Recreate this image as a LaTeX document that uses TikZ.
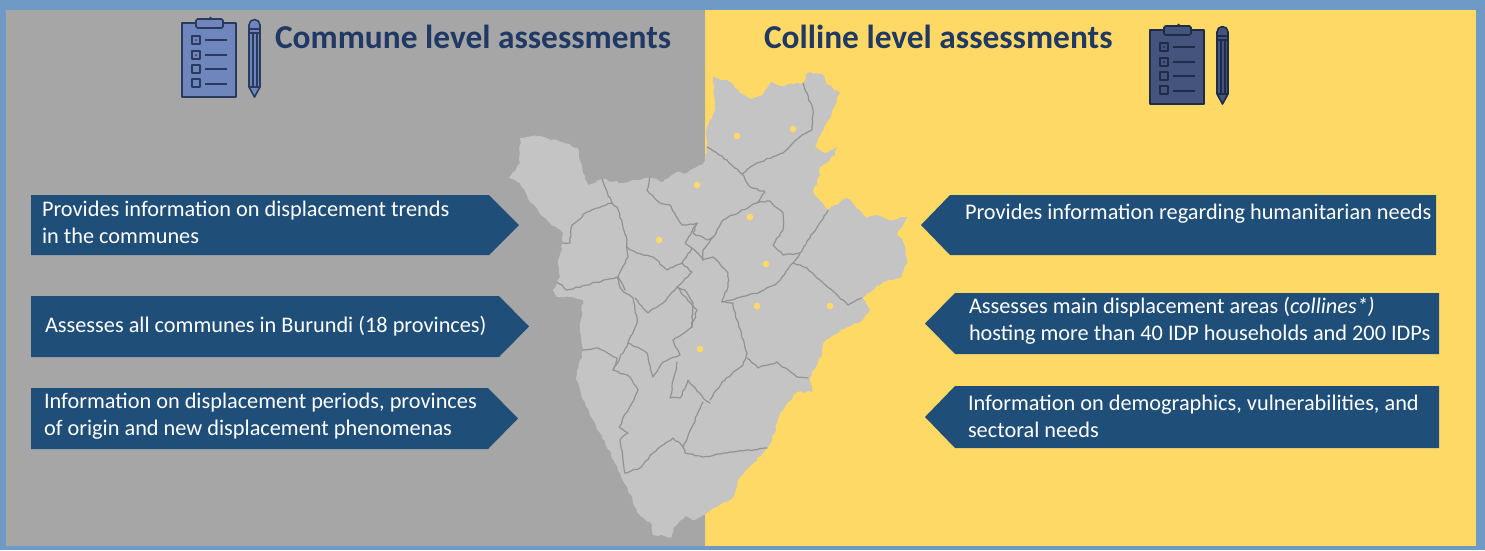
\documentclass[tikz,border=0pt]{standalone}
\usepackage{fontspec}
\usetikzlibrary{decorations.pathmorphing}
\setmainfont{Carlito}
\definecolor{frameblue}{HTML}{6E9AC5}
\definecolor{panelgray}{HTML}{A6A6A6}
\definecolor{panelyellow}{HTML}{FFD966}
\definecolor{arrowblue}{HTML}{1F4E79}
\definecolor{titleblue}{HTML}{1F3864}
\definecolor{mapfill}{HTML}{C4C4C4}
\definecolor{mapline}{HTML}{929292}
\definecolor{iconlight}{HTML}{6F86BC}
\definecolor{icondark}{HTML}{44547C}
\definecolor{iconlineL}{HTML}{2A3A5E}
\definecolor{iconlineR}{HTML}{1F2B4A}
\pgfmathsetseed{7}
\tikzset{
  arrowbox/.style={fill=arrowblue, draw=none},
  boxtext/.style={anchor=base west, text=white, inner sep=0pt, outer sep=0pt, align=left, font=\fontsize{22.3}{27}\selectfont},
  headtext/.style={anchor=base west, text=titleblue, inner sep=0pt, outer sep=0pt, font=\fontsize{33.4}{36}\selectfont\bfseries},
  wiggle/.style={decorate, decoration={random steps, segment length=3.5pt, amplitude=1.1pt}},
  border/.style={draw=mapline, line width=1.2pt, line join=round, line cap=round, decorate, decoration={random steps, segment length=3.5pt, amplitude=0.8pt}},
  citydot/.style={fill=panelyellow, draw=none},
}
\newcommand{\rsicon}[4]{%
  \begin{scope}[shift={(#1,#2)}, draw=#4, line width=1.6pt, line join=round]
    \fill[#4] (210.5,18) circle[radius=1.5];
    \draw[fill=#3] (182,23) rectangle (236,97);
    \draw[fill=#3, rounded corners=1.5pt] (196,19) rectangle (223,28);
    \draw (192,36) rectangle (200,44);
    \draw (192,51) rectangle (200,59);
    \draw (192,65) rectangle (200,73);
    \draw (192,79) rectangle (200,87);
    \fill[#4] (196,40) circle[radius=1];
    \fill[#4] (196,55) circle[radius=1];
    \draw (205,40) -- (227,40);
    \draw (205,55) -- (227,55);
    \draw (205,69) -- (227,69);
    \draw (205,84) -- (227,84);
    \draw[fill=#3] (249,87) -- (249,25) arc[start angle=180, end angle=360, radius=5.5] -- (260,87) -- (254.5,97) -- cycle;
    \draw (249,29) -- (260,29);
    \draw (249,33) -- (260,33);
    \draw (249,87) -- (260,87);
    \draw (253,33) -- (253,87);
    \draw (257,33) -- (257,87);
  \end{scope}}
\begin{document}
\begin{tikzpicture}[x=1pt,y=-1pt]
\useasboundingbox (0,0) rectangle (1485,550);
\fill[frameblue] (0,0) rectangle (1485,550);
\fill[panelgray] (6,10) rectangle (705,546);
\fill[panelyellow] (705,10) rectangle (1476,546);
% map
\fill[mapfill, line join=round, wiggle]
 (713,77) -- (730,82) -- (740,93) -- (752,99) -- (763,95) -- (772,82) -- (780,86) -- (803,83) -- (807,73) -- (822,74) -- (828,85) -- (840,93) -- (835,105) -- (828,120) -- (815,147) -- (825,153) -- (837,147) -- (835,155) -- (820,167) -- (820,175) -- (813,192) -- (828,210) -- (847,198) -- (867,218) -- (877,215) -- (888,220) -- (907,217) -- (897,233) -- (903,242) -- (907,260) -- (902,277) -- (883,282) -- (873,290) -- (862,298) -- (870,310) -- (860,322) -- (840,330) -- (823,343) -- (822,353) -- (810,377) -- (812,392) -- (797,392) -- (780,413) -- (772,440) -- (763,453) -- (740,477) -- (733,497) -- (707,513) -- (695,520) -- (685,516) -- (673,528) -- (672,537) -- (653,535) -- (652,525) -- (637,512) -- (628,490) -- (620,473) -- (600,433) -- (583,400) -- (576,378) -- (583,350) -- (580,327) -- (583,300) -- (573,297) -- (557,297) -- (553,290) -- (560,277) -- (558,260) -- (563,243) -- (563,233) -- (550,223) -- (530,202) -- (520,183) -- (509,178) -- (520,163) -- (520,138) -- (540,136) -- (562,142) -- (578,148) -- (583,173) -- (588,185) -- (602,179) -- (623,183) -- (650,177) -- (663,182) -- (677,172) -- (687,173) -- (702,165) -- (707,153) -- (707,127) -- (715,110) -- cycle;
% internal borders
\draw[border] (707,147) -- (727,160) -- (742,174) -- (750,187) -- (765,192) -- (757,203) -- (733,215) -- (723,220) -- (713,237) -- (703,250) -- (703,260) -- (713,257) -- (728,273) -- (728,287) -- (722,302) -- (733,303) -- (737,320) -- (747,353) -- (743,365) -- (722,382) -- (710,400);
\draw[border] (742,174) -- (757,163) -- (783,153) -- (802,135) -- (812,130) -- (813,110) -- (803,83);
\draw[border] (757,203) -- (770,201) -- (783,213) -- (783,230) -- (773,245) -- (783,255) -- (800,253) -- (813,233) -- (828,210);
\draw[border] (800,253) -- (793,263) -- (777,283) -- (760,292) -- (737,298) -- (722,302);
\draw[border] (793,263) -- (807,268) -- (820,280) -- (848,305) -- (862,298);
\draw[border] (747,358) -- (758,368) -- (777,362) -- (797,377) -- (808,378);
\draw[border] (703,402) -- (683,447) -- (685,453) -- (703,457) -- (730,452) -- (753,450) -- (767,448);
\draw[border] (683,447) -- (673,438) -- (653,453) -- (640,468) -- (625,473);
\draw[border] (625,473) -- (620,440) -- (628,433) -- (619,427) -- (638,390) -- (630,377) -- (613,370) -- (617,358) -- (598,348) -- (583,350);
\draw[border] (613,370) -- (628,343) -- (637,323) -- (633,298) -- (622,290) -- (617,277) -- (567,290) -- (557,282);
\draw[border] (628,343) -- (647,353) -- (653,377) -- (663,362) -- (680,355) -- (673,340) -- (692,327) -- (693,303) -- (685,290) -- (677,287);
\draw[border] (677,362) -- (670,398) -- (680,398) -- (688,380) -- (703,398) -- (710,403);
\draw[border] (635,298) -- (648,313) -- (663,303) -- (675,290) -- (677,287);
\draw[border] (602,179) -- (612,203) -- (617,207) -- (627,240) -- (628,257) -- (618,277) -- (625,290);
\draw[border] (612,203) -- (587,212) -- (572,225) -- (570,243) -- (563,243);
\draw[border] (627,247) -- (637,253) -- (653,257) -- (667,270) -- (682,263) -- (692,248) -- (685,243) -- (697,223) -- (682,225) -- (670,205) -- (660,203) -- (647,190) -- (650,177);
\draw[border] (697,223) -- (693,233) -- (707,240) -- (713,237);
\draw[border] (682,263) -- (692,272) -- (677,287) -- (697,310) -- (692,327);
\draw[border] (692,248) -- (703,260);
% dots
\foreach \px/\py in {737/136,793/129,697/185,750/217,659/240,766/264,757/306,830/306,700/349}
  \fill[citydot] (\px,\py) circle[radius=3.3];
% icons
\rsicon{0}{0}{iconlight}{iconlineL}
\rsicon{968}{7}{icondark}{iconlineR}
% headings
\node[headtext] (headL) at (275,48.5) {Commune level assessments};
\node[headtext] (headR) at (764,48.5) {Colline level assessments};
% arrows
\fill[arrowbox] (31,195) -- (489,195) -- (519,225) -- (489,255) -- (31,255) -- cycle;
\fill[arrowbox] (31,296) -- (499,296) -- (529,326.5) -- (499,357) -- (31,357) -- cycle;
\fill[arrowbox] (31,388) -- (488,388) -- (518,418.5) -- (488,449) -- (31,449) -- cycle;
\fill[arrowbox] (1436,195) -- (950,195) -- (921,225) -- (950,255) -- (1436,255) -- cycle;
\fill[arrowbox] (1439,293) -- (955,293) -- (925,323.5) -- (955,354) -- (1439,354) -- cycle;
\fill[arrowbox] (1439,386) -- (955,386) -- (925,417) -- (955,448) -- (1439,448) -- cycle;
\node[boxtext] (l1) at (42,243) {Provides information on displacement trends\\in the communes};
\node[boxtext] (l2) at (45,332) {Assesses all communes in Burundi (18 provinces)};
\node[boxtext] (l3) at (44,435) {Information on displacement periods, provinces\\of origin and new displacement phenomenas};
\node[boxtext] (r1) at (965,219) {Provides information regarding humanitarian needs};
\node[boxtext] (r2) at (969,340) {Assesses main displacement areas (\textit{collines*)}\\hosting more than 40 IDP households and 200 IDPs};
\node[boxtext] (r3) at (968,437) {Information on demographics, vulnerabilities, and\\sectoral needs};
\end{tikzpicture}
\end{document}
